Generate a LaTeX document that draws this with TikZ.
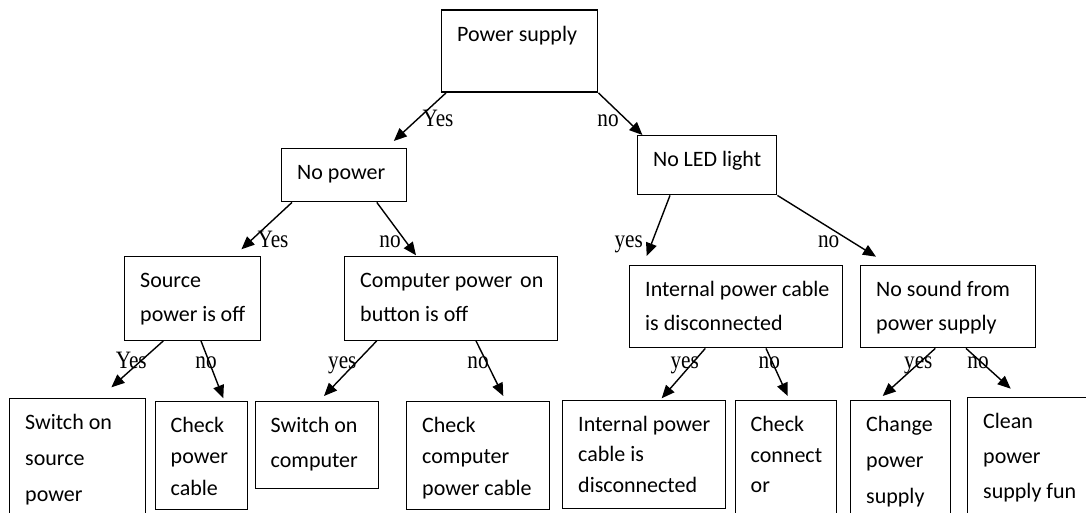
\documentclass[tikz,border=0pt]{standalone}
\usepackage{fontspec}
\setmainfont{Liberation Serif}
\newfontfamily\calibri{Carlito}
\newfontfamily\labelfont[FakeStretch=0.85]{Liberation Serif}
\usepackage{tikz}
\usetikzlibrary{positioning, arrows.meta}

% box text: [line spacing]{width px}{height px}{lines}
\newcommand{\boxtext}[4][17pt]{%
	\parbox[c][\dimexpr#3pt/2\relax][t]{\dimexpr#2pt/2-15.5pt\relax}{%
		\calibri\fontsize{11pt}{#1}\selectfont\raggedright
		\rule{0pt}{15.5pt}#4}}

\begin{document}
\begin{tikzpicture}[
			x=0.5pt, y=-0.5pt,
			box/.style={
				draw,
				rectangle,
				line width=0.7pt,
				inner xsep=7.75pt,
				inner ysep=0pt,
				anchor=north west
			},
			lbl/.style={
				font=\labelfont\fontsize{12.5pt}{14pt}\selectfont,
				inner sep=0pt,
				anchor=base
			},
			arr/.style={
				-{Triangle[length=6.5pt, width=5.5pt]},
				line width=0.7pt
			}
			]
			
			\useasboundingbox (0,0) rectangle (1086,513);
			\clip (0,0) rectangle (1086,513);
			
			\node[box] (ps) at (441,9.5) {\boxtext{156}{82}{Power supply}};
			\node[box] (np) at (281,148) {\boxtext{125}{53}{No power}};
			\node[box] (nl) at (637,135) {\boxtext{139}{59}{No LED light}};
			
			\node[box] (sp) at (124,256) {\boxtext{136}{83.5}{Source\\power is off}};
			\node[box] (cp) at (344,256) {\boxtext{213}{83.5}{\mbox{Computer power\hspace{4pt}on}\\button is off}};
			\node[box] (ic) at (629,265) {\boxtext[16.7pt]{213}{82}{\mbox{Internal power cable}\\is disconnected}};
			\node[box] (ns) at (860,265) {\boxtext[16.7pt]{175}{82}{No sound from\\power supply}};
			
			\node[box] (ss) at (9,398) {\boxtext[18pt]{136}{140}{Switch on\\source\\power}};
			\node[box] (cc) at (154.5,400.5) {\boxtext[15.75pt]{92.5}{108}{Check\\power\\cable}};
			\node[box] (sc) at (254.5,400.5) {\boxtext[17.5pt]{123.5}{87.5}{Switch on\\computer}};
			\node[box] (ck) at (406,400.5) {\boxtext[15.8pt]{143}{108}{Check\\computer\\power cable}};
			\node[box] (id) at (562,399.5) {\boxtext[15.25pt]{163}{108}{Internal power\\cable is\\disconnected}};
			\node[box] (cn) at (734.5,400) {\boxtext[15.25pt]{101}{140}{Check\\connect\\or}};
			\node[box] (cs) at (850,400) {\boxtext[18pt]{100}{140}{Change\\power\\supply}};
			\node[box] (cf) at (967,397) {\boxtext[17.5pt]{140}{140}{Clean\\power\\supply fun}};
			
			\draw[arr] ([shift={(5,0)}]ps.south west) -- ([shift={(-13.6,-7)}]np.north east);
			\draw[arr] (ps.south east) -- ([shift={(5.4,0)}]nl.north west);
			
			\draw[arr] ([shift={(11,0)}]np.south west) -- ([shift={(-20,-6.7)}]sp.north east);
			\draw[arr] ([shift={(95.8,0)}]np.south west) -- ([shift={(72,-0.7)}]cp.north west);
			\draw[arr] ([shift={(33,0)}]nl.south west) -- ([shift={(17.7,-9)}]ic.north west);
			\draw[arr] (nl.south east) -- ([shift={(16,-8.3)}]ns.north west);
			
			\draw[arr] ([shift={(39.3,0)}]sp.south west) -- ([shift={(-35,-10.7)}]ss.north east);
			\draw[arr] ([shift={(77,0)}]sp.south west) -- ([shift={(68.8,-2.2)}]cc.north west);
			\draw[arr] ([shift={(32.7,0)}]cp.south west) -- ([shift={(69.5,-4.5)}]sc.north west);
			\draw[arr] ([shift={(132,0)}]cp.south west) -- ([shift={(97.3,-4.5)}]ck.north west);
			\draw[arr] ([shift={(76.3,0)}]ic.south west) -- ([shift={(99.7,-1.2)}]id.north west);
			\draw[arr] ([shift={(137,0)}]ic.south west) -- ([shift={(53.2,-4)}]cn.north west);
			\draw[arr] ([shift={(75.3,0)}]ns.south west) -- ([shift={(32.7,-4)}]cs.north west);
			\draw[arr] ([shift={(106,0)}]ns.south west) -- ([shift={(43.7,-8.3)}]cf.north west);
			
			\node[lbl] (l1) at (438,127) {Yes};
			\node[lbl] (l2) at (608,127) {no};
			\node[lbl] (l3) at (273,248) {Yes};
			\node[lbl] (l4) at (390,248) {no};
			\node[lbl] (l5) at (628.7,248) {yes};
			\node[lbl] (l6) at (828.7,248) {no};
			\node[lbl] (l7) at (131.3,368) {Yes};
			\node[lbl] (l8) at (206,368) {no};
			\node[lbl] (l9) at (342.3,368) {yes};
			\node[lbl] (l10) at (478,368) {no};
			\node[lbl] (l11) at (684.7,368) {yes};
			\node[lbl] (l12) at (769.3,368) {no};
			\node[lbl] (l13) at (918.3,368) {yes};
			\node[lbl] (l14) at (978,368) {no};
			
		\end{tikzpicture}
\end{document}
